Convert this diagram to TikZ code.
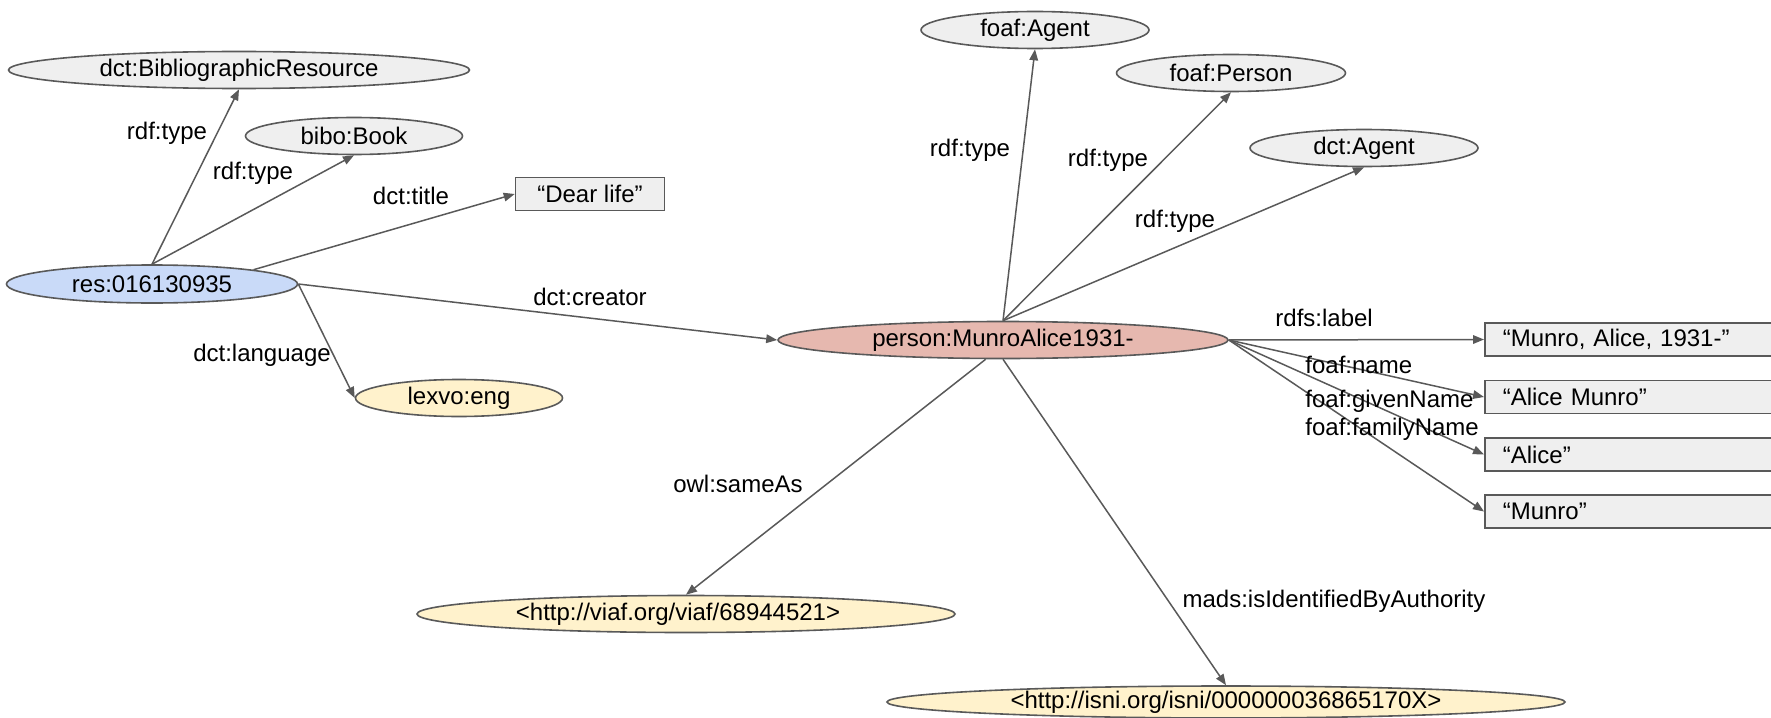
\documentclass[tikz,border=0pt]{standalone}
\usepackage{fontspec}
\setmainfont{Liberation Sans}
\usepackage{tikz}
\usetikzlibrary{shapes.geometric}
\usetikzlibrary{arrows.meta}

\definecolor{linegray}{HTML}{595959}
\definecolor{classfill}{HTML}{EFEFEF}
\definecolor{resfill}{HTML}{C9DAF8}
\definecolor{personfill}{HTML}{E6B8AF}
\definecolor{litfill}{HTML}{FFF2CC}

\tikzset{
  rnode/.style={ellipse, draw=linegray, line width=0.8pt, inner sep=0pt, minimum height=18.5pt},
  cls/.style={rnode, fill=classfill},
  lit/.style={rectangle, draw=linegray, line width=0.8pt, fill=classfill, minimum height=16.5pt, inner sep=0pt},
  litrow/.style={lit, anchor=west, text width=142pt, align=left, inner xsep=9pt},
  edge/.style={draw=linegray, line width=0.75pt, -{Triangle[length=5.5pt,width=4.3pt]}},
  lbl/.style={inner sep=0pt}
}

\begin{document}
\begin{tikzpicture} [x=0.5pt, y=-0.5pt, font=\fontsize{12}{14}\selectfont]

\path[use as bounding box, clip] (0,0) rectangle (1771,717);

% book side
\node[cls, minimum width=230.5pt] (biblio) at (239,70) {dct:BibliographicResource};
\node[cls, minimum width=108.5pt] (book) at (354,136) {bibo:Book};
\node[lit, minimum width=74.5pt] (title) at (590,194) {``Dear life''};
\node[rnode, fill=resfill, minimum width=145.5pt, minimum height=19pt] (res) at (152,284) {res:016130935};
\node[rnode, fill=litfill, minimum width=103.5pt] (lexvo) at (459,398) {lexvo:eng};

% person side
\node[rnode, fill=personfill, minimum width=225pt] (person) at (1003,340) {person:MunroAlice1931-};
\node[cls, minimum width=114pt] (fagent) at (1035,30) {foaf:Agent};
\node[cls, minimum width=114.5pt] (fperson) at (1231,73) {foaf:Person};
\node[cls, minimum width=114pt] (dagent) at (1364,148) {dct:Agent};

\node[litrow] (plabel) at (1484,339.5) {``Munro, Alice, 1931-''};
\node[litrow] (pname) at (1484,397) {``Alice Munro''};
\node[litrow] (pgiven) at (1484,454.5) {``Alice''};
\node[litrow] (pfamily) at (1484,511.5) {``Munro''};

\node[rnode, fill=litfill, minimum width=269pt] (viaf) at (686,614) {<http://viaf.org/viaf/68944521>\hspace*{8pt}};
\node[rnode, fill=litfill, minimum width=339pt, minimum height=16pt] (isni) at (1226,702) {<http://isni.org/isni/000000036865170X>};

% links
\draw[edge] (res.north) -- (biblio.south);
\draw[edge] (res.north) -- (book.south);
\draw[edge] (res.8) -- (title.west);
\draw[edge] (res.east) -- (person.west);
\draw[edge] (res.east) -- (lexvo.west);

\draw[edge] (person.north) -- (fagent.south);
\draw[edge] (person.north) -- (fperson.south);
\draw[edge] (person.north) -- (dagent.south);
\draw[edge] (person.east) -- (plabel.west);
\draw[edge] (person.east) -- (pname.west);
\draw[edge] (person.east) -- (pgiven.west);
\draw[edge] (person.east) -- (pfamily.west);
\draw[edge] (person.228) -- (viaf.north);
\draw[edge] (person.south) -- (isni.north);

% link labels
\node[lbl] (t1) at (167,133) {rdf:type};
\node[lbl] (t2) at (253,173) {rdf:type};
\node[lbl] (t3) at (411,196) {dct:title};
\node[lbl] (t4) at (590,297) {dct:creator};
\node[lbl] (t5) at (262,355) {dct:language};
\node[lbl] (t6) at (970,150) {rdf:type};
\node[lbl] (t7) at (1108,160) {rdf:type};
\node[lbl] (t8) at (1175,221) {rdf:type};
\node[lbl, anchor=west] (t9) at (1275,318) {rdfs:label};
\node[lbl, anchor=west] (t10) at (1305,365) {foaf:name};
\node[lbl, anchor=west] (t11) at (1305,401) {foaf:givenName};
\node[lbl, anchor=west] (t12) at (1305,429) {foaf:familyName};
\node[lbl] (t13) at (738,484) {owl:sameAs};
\node[lbl] (t14) at (1334,601) {mads:isIdentifiedByAuthority};

\end{tikzpicture}
\end{document}
